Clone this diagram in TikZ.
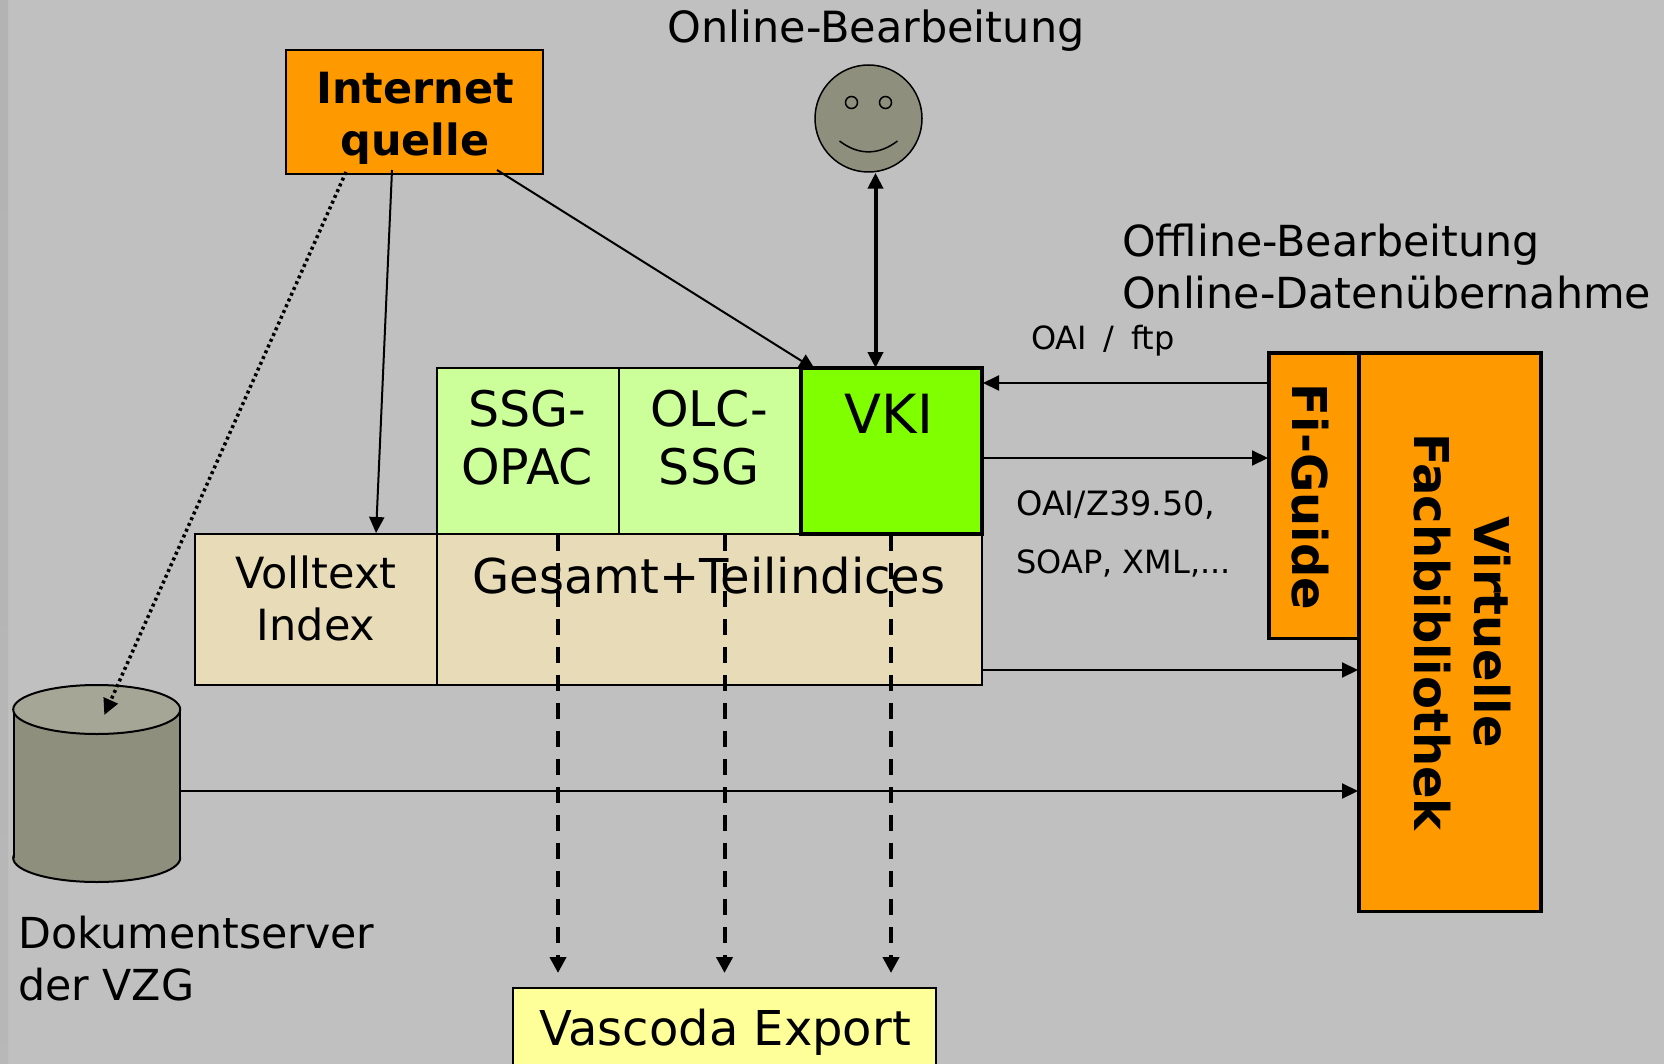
\documentclass[tikz,border=0pt]{standalone}
\usepackage{fontspec}
\setmainfont{DejaVu Sans}
\usetikzlibrary{arrows.meta,calc}
\definecolor{hintergrund}{HTML}{C0C0C0}
\definecolor{orangebox}{HTML}{FF9900}
\definecolor{hellgruen}{HTML}{CCFF99}
\definecolor{vkigruen}{HTML}{80FF00}
\definecolor{beige}{HTML}{E8DCB8}
\definecolor{gelb}{HTML}{FFFF99}
\definecolor{oliv}{HTML}{8F8F7D}
\definecolor{olivhell}{HTML}{A6A696}
\tikzset{
  box/.style={draw,line width=2pt,inner sep=0pt,outer sep=0pt,anchor=north west},
  txt/.style={inner sep=0pt,align=center,font=\fontsize{43}{52}\selectfont},
  txtklein/.style={inner sep=0pt,anchor=base west,font=\fontsize{32}{40}\selectfont},
  fett/.style={inner sep=0pt,align=center,font=\fontsize{48}{60}\selectfont\bfseries},
  auge/.style={circle,draw,fill=oliv,line width=1.5pt,minimum size=12pt,inner sep=0pt},
  pfeil/.style={-{Triangle[length=16pt,width=15pt]},line width=2pt,shorten >=1pt},
  strichpfeil/.style={-{Triangle[length=16pt,width=16pt]},line width=4pt,dash pattern=on 16pt off 12pt},
}
\begin{document}
\begin{tikzpicture}[x=1pt,y=-1pt]
\useasboundingbox (0,0) rectangle (1664,1064);
\clip (0,0) rectangle (1664,1064);
\fill[hintergrund] (0,0) rectangle (1664,1064);
\shade[top color=black!30,middle color=black!58,bottom color=black!28] (0,0) rectangle (8,1064);
\pgfmathsetmacro{\spalte}{181.5}
\pgfmathsetmacro{\oben}{166}
\pgfmathsetmacro{\unten}{151}

\node[box,fill=orangebox,line width=2.5pt,minimum width=257pt,minimum height=124pt] (internet) at (286,50) {};
\node[txt,font=\fontsize{43}{52}\selectfont\bfseries] (internettext) at (415,118) {Internet\\quelle};
\node[txt] (online) at (876,31) {Online-Bearbeitung};
\node[circle,draw,fill=oliv,line width=1.5pt,minimum size=107pt,inner sep=0pt] (smiley) at (868.5,118.5) {};
\node[auge] (augeL) at ($(smiley)+(-17,-16)$) {};
\node[auge] (augeR) at ($(smiley)+(17,-16)$) {};
\draw[line width=1.5pt] ($(smiley)+(-29,22.5)$) .. controls ($(smiley)+(-10,37)$) and ($(smiley)+(10,37)$) .. ($(smiley)+(29,22.5)$);
\coordinate (smileypunkt) at ($(smiley.south)+(7,0)$);

\node[box,fill=hellgruen,minimum width=\spalte pt,minimum height=\oben pt] (ssg) at (437,368) {};
\node[box,fill=hellgruen,minimum width=\spalte pt,minimum height=\oben pt] (olc) at (618.5,368) {};
\node[box,fill=beige,minimum width=242pt,minimum height=\unten pt] (volltext) at (195,534) {};
\node[box,fill=beige,minimum width=545pt,minimum height=\unten pt] (gesamt) at (437,534) {};

\node[box,draw=none,minimum width=167pt,minimum height=197pt] (dokserver) at (13.5,685) {};
\draw[line width=2pt,fill=oliv] (96.7,858) ellipse [x radius=83.5,y radius=24];
\fill[oliv] (13.5,709.5) rectangle (180,858);
\draw[line width=2pt] (13.5,709.5) -- (13.5,858) (180,709.5) -- (180,858);
\draw[line width=2pt,fill=olivhell] (96.7,709.5) ellipse [x radius=83.5,y radius=24.5];
\coordinate (dokziel) at (104.3,715);

\draw[pfeil] (internet.south west |- 0,170) ++(106,0) -- (volltext.north west -| 376,0);
\draw[pfeil] (internet.south east |- 0,170) ++(-46,0) -- (816,370);
\draw[-{Triangle[length=16pt,width=15pt]},line width=3.5pt,dash pattern=on 3pt off 3.3pt] (346,172) -- (dokziel);

\node[box,fill=vkigruen,line width=4pt,minimum width=\spalte pt,minimum height=\oben pt] (vki) at (800.5,368) {};

\node[txt,font=\fontsize{49}{58}\selectfont] (ssgtext) at (527,438) {SSG-\\OPAC};
\node[txt,font=\fontsize{49}{58}\selectfont] (olctext) at (709,438) {OLC-\\SSG};
\node[txt,font=\fontsize{54}{60}\selectfont] (vkitext) at (889,414) {VKI};
\node[txt] (volltexttext) at (316,598) {Volltext\\Index};
\node[txt,font=\fontsize{48}{58}\selectfont] (gesamttext) at (709,576) {Gesamt+Teilindices};
\node[txt,font=\fontsize{42.7}{52}\selectfont,align=left,anchor=west] (dokservertext) at (18,959) {Dokumentserver\\der VZG};
\node[txt,font=\fontsize{42.8}{52}\selectfont,align=left,anchor=west] (offline) at (1122,267) {Offline-Bearbeitung\\Online-Datenübernahme};
\node[txtklein] (oaiftp) at (1031,349) {OAI\hspace{.2em} /\hspace{.2em} ftp};
\node[txtklein,font=\fontsize{33.5}{40}\selectfont] (oaiz) at (1016,515) {OAI/Z39.50,};
\node[txtklein] (soap) at (1016,573) {SOAP, XML,...};

\node[box,fill=orangebox,line width=3.5pt,minimum width=90pt,minimum height=285.5pt] (figuide) at (1269,353) {};
\node[box,fill=orangebox,line width=3.5pt,minimum width=182pt,minimum height=558.5pt] (fachbib) at (1359,353) {};
\node[fett,rotate=-90] (figuidetext) at (1310,497) {Fi-Guide};
\node[fett,rotate=-90] (fachbibtext) at (1462,632) {Virtuelle\\Fachbibliothek};
\node[box,fill=gelb,minimum width=423pt,minimum height=90pt] (vascoda) at (513,988) {};
\node[txt,font=\fontsize{48}{52}\selectfont] (vascodatext) at (725,1032) {Vascoda Export};

\draw[{Triangle[length=16pt,width=15pt]}-{Triangle[length=16pt,width=15pt]},line width=4pt] (smileypunkt) -- (smileypunkt |- vki.north);
\draw[pfeil] (figuide.west |- 0,383) -- (vki.east |- 0,383);
\draw[pfeil] (vki.east |- 0,458) -- (figuide.west |- 0,458);
\draw[pfeil] (gesamt.east |- 0,670) -- (fachbib.west |- 0,670);
\draw[pfeil] (dokserver.east |- 0,791) -- (fachbib.west |- 0,791);
\foreach \x in {558,724.5,891}
  \draw[strichpfeil] (\x,535) -- (\x,973);
\end{tikzpicture}
\end{document}
